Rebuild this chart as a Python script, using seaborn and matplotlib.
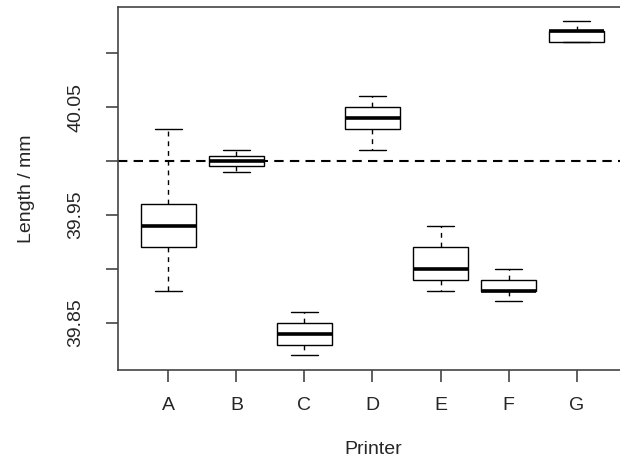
# Import libraries
import pandas as pd
import matplotlib
matplotlib.use("Agg")
import matplotlib.pyplot as plt
import seaborn as sns

# -----------------------------
# Data (five-number summaries)
# -----------------------------
printers = ["A", "B", "C", "D", "E", "F", "G"]
lows = [39.88, 39.99, 39.82, 40.01, 39.88, 39.87, 40.11]
q1s = [39.92, 39.995, 39.83, 40.03, 39.89, 39.88, 40.11]
medians = [39.94, 40.00, 39.84, 40.04, 39.90, 39.88, 40.12]
q3s = [39.96, 40.005, 39.85, 40.05, 39.92, 39.89, 40.12]
highs = [40.03, 40.01, 39.86, 40.06, 39.94, 39.90, 40.13]
target = 40.00

ytick_values = [39.85, 39.90, 39.95, 40.00, 40.05, 40.10]
ytick_labels = ["39.85", "", "39.95", "", "40.05", ""]

# long table: one row per summary value
rows = []
for i, p in enumerate(printers):
    for v in (lows[i], q1s[i], medians[i], q3s[i], highs[i]):
        rows.append({"Printer": p, "Length": v})
df = pd.DataFrame(rows)

# -----------------------------
# Style
# -----------------------------
sns.set_style("white")
plt.rcParams["font.family"] = ["Liberation Sans", "DejaVu Sans"]
plt.rcParams["font.size"] = 14

fig = plt.figure(figsize=(6.2, 4.61), dpi=100)
ax = fig.add_axes([0.1903, 0.1974, 0.821, 0.7874])

sns.boxplot(
    data=df,
    x="Printer",
    y="Length",
    order=printers,
    whis=(0, 100),
    width=0.8,
    color="white",
    linecolor="black",
    linewidth=1.0,
    medianprops=dict(linewidth=2.6),
    whiskerprops=dict(linestyle=(0, (3.5, 3.5))),
    ax=ax,
)

ax.axhline(target, color="black", linewidth=1.5, linestyle=(0, (4.5, 3)), zorder=0)

# -----------------------------
# Axes
# -----------------------------
ax.set_xlim(-0.74, 6.74)
ax.set_ylim(39.8065, 40.1426)
ax.set_yticks(ytick_values)
ax.set_yticklabels(ytick_labels, rotation=90, va="center")

for side in ["left", "right", "top", "bottom"]:
    ax.spines[side].set_visible(True)
    ax.spines[side].set_color("#444444")
    ax.spines[side].set_linewidth(1.2)

ax.tick_params(axis="x", bottom=True, direction="out", length=8.6, width=1.2,
               color="#444444", pad=10.5, labelsize=14)
ax.tick_params(axis="y", left=True, direction="out", length=9, width=1.2,
               color="#444444", pad=15, labelsize=14)

ax.set_xlabel("Printer", fontsize=14)
ax.set_ylabel("Length / mm", fontsize=14)
ax.xaxis.set_label_coords(0.501, -0.196)
ax.yaxis.set_label_coords(-0.163, 0.5)

plt.savefig("out.png", dpi=100)
